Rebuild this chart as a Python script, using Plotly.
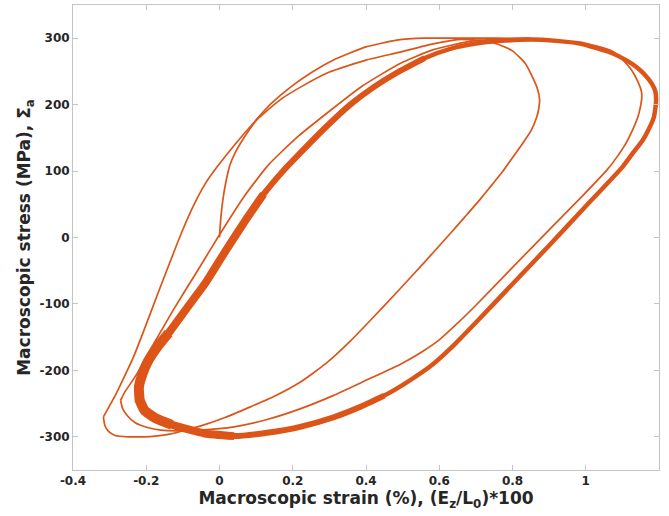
import plotly.graph_objects as go

# ---------------- data ----------------
# initial loading from the origin, first unloading to the left-most tip
initial_strain = [0.0, 0.003, 0.009, 0.018, 0.029, 0.045, 0.062, 0.08, 0.10, 0.13, 0.17, 0.22, 0.30, 0.40,
                  0.493, 0.58, 0.65, 0.711, 0.76, 0.80, 0.835, 0.855, 0.868, 0.874, 0.872, 0.866, 0.85, 0.828,
                  0.80, 0.774, 0.745, 0.711, 0.67, 0.63, 0.56, 0.49, 0.42, 0.357, 0.29, 0.22, 0.15, 0.084,
                  0.015, -0.053, -0.10, -0.135, -0.175, -0.208, -0.25, -0.285, -0.303, -0.313, -0.317]
initial_stress = [0, 25, 56, 85, 110, 130, 146, 161, 176, 191, 209, 226, 249, 267,
                  279, 291, 298, 297, 291, 281, 262, 241, 224, 208, 195, 181, 160, 142,
                  120, 100, 80, 57, 31, 6, -37, -79, -120, -156, -190, -218, -239, -255,
                  -271, -284, -291, -296, -299, -300, -300, -298, -292, -283, -270]

# first reload + unloading (outer thin loop)
cycle1_strain = [-0.317, -0.300, -0.283, -0.262, -0.235, -0.21, -0.168, -0.126, -0.1, -0.071, -0.04, -0.007,
                 0.045, 0.092, 0.14, 0.193, 0.25, 0.31, 0.40, 0.484, 0.56, 0.65, 0.75, 0.85, 0.93, 0.984,
                 1.03, 1.074, 1.10, 1.125, 1.142, 1.152, 1.153, 1.149, 1.142, 1.128, 1.11, 1.085, 1.057,
                 0.99, 0.91, 0.8, 0.70, 0.65, 0.60, 0.55, 0.493, 0.40, 0.31, 0.22, 0.13, 0.04, -0.053,
                 -0.115, -0.16, -0.197, -0.23, -0.252, -0.265, -0.27]
cycle1_stress = [-270, -253, -236, -212, -180, -145, -84, -24, 12, 48, 80, 106,
                 142, 172, 201, 226, 248, 267, 287, 297, 300, 300, 300, 299, 296, 293,
                 288, 280, 268, 252, 235, 220, 211, 196, 181, 162, 142, 121, 101,
                 62, 17, -45, -102, -129, -154, -173, -191, -215, -238, -258, -274, -285, -290,
                 -291, -290, -286, -279, -268, -257, -245]

# second reload
cycle2_strain = [-0.27, -0.258, -0.243, -0.225, -0.189, -0.126, -0.06, 0.002, 0.065, 0.133, 0.21,
                 0.293, 0.39, 0.493, 0.58, 0.68, 0.78, 0.85]
cycle2_stress = [-245, -232, -220, -205, -169, -109, -50, 6, 60, 109, 150,
                 187, 228, 262, 282, 295, 299, 300]

# stabilised loops (thick band)
stable_strain = [-0.218, -0.22, -0.21, -0.197, -0.17, -0.139, -0.09, -0.039, 0.018, 0.07, 0.12, 0.17, 0.22,
                 0.29, 0.357, 0.42, 0.484, 0.56, 0.63, 0.70, 0.77, 0.85, 0.92, 0.984, 1.03, 1.074, 1.11,
                 1.14, 1.163, 1.18, 1.19, 1.192, 1.186, 1.172, 1.155, 1.13, 1.10, 1.0, 0.9, 0.8, 0.7,
                 0.64, 0.58, 0.52, 0.45, 0.38, 0.31, 0.22, 0.13, 0.04, -0.04, -0.085, -0.13, -0.175, -0.205, -0.218]
stable_stress = [-245, -225, -205, -188, -165, -144, -107, -69, -19, 25, 65, 98, 127,
                 166, 200, 226, 248, 270, 284, 292, 296, 298, 296, 292, 285, 277, 267,
                 256, 244, 232, 220, 205, 181, 163, 146, 128, 106, 47, -12, -70, -128,
                 -162, -192, -215, -238, -256, -271, -285, -294, -299, -295, -289, -282, -272, -260, -245]

x_ticks = [-0.4, -0.2, 0, 0.2, 0.4, 0.6, 0.8, 1, 1.2]
x_labels = ["-0.4", "-0.2", "0", "0.2", "0.4", "0.6", "0.8", "1", "1.2"]
y_ticks = [-300, -200, -100, 0, 100, 200, 300]
y_labels = ["-300", "-200", "-100", "0", "100", "200", "300"]

# ---------------- figure ----------------
color = "#DD5418"
fig = go.Figure()


def add(x, y, w):
    fig.add_trace(go.Scatter(x=x, y=y, mode="lines",
                             line=dict(color=color, width=w, shape="spline", smoothing=0.5),
                             showlegend=False, hoverinfo="skip"))


# band where many stabilised cycles overlap: thickness grows towards the lower-left
add(stable_strain, stable_stress, 4.5)
add(stable_strain[-12:] + stable_strain[:18], stable_stress[-12:] + stable_stress[:18], 6)
add(stable_strain[-7:] + stable_strain[:11], stable_stress[-7:] + stable_stress[:11], 8)
add(stable_strain[-4:] + stable_strain[:6], stable_stress[-4:] + stable_stress[:6], 10)
add(initial_strain, initial_stress, 1.7)
add(cycle1_strain, cycle1_stress, 1.7)
add(cycle2_strain, cycle2_stress, 1.7)

axis_col = "#c4c4c4"
tick_font = dict(family="DejaVu Sans", size=12, color="#262626", weight="bold")
title_font = dict(family="DejaVu Sans", size=17, color="#262626", weight="bold")

fig.update_layout(
    width=669, height=516,
    margin=dict(l=73, r=10, t=5, b=46),
    paper_bgcolor="white", plot_bgcolor="white",
    xaxis=dict(range=[-0.4, 1.2], tickvals=x_ticks, ticktext=x_labels,
               ticks="inside", ticklen=5, tickcolor=axis_col, showline=True, linecolor=axis_col,
               linewidth=1, mirror="ticks", showgrid=False, zeroline=False, tickfont=tick_font,
               title=dict(text="Macroscopic strain (%), (E<sub>z</sub>/L<sub>0</sub>)*100",
                          font=title_font, standoff=3)),
    yaxis=dict(range=[-350, 350], tickvals=y_ticks, ticktext=y_labels,
               ticks="inside", ticklen=5, tickcolor=axis_col, showline=True, linecolor=axis_col,
               linewidth=1, mirror="ticks", showgrid=False, zeroline=False, tickfont=tick_font,
               title=dict(text="Macroscopic stress (MPa), Σ<sub>a</sub>",
                          font=title_font, standoff=4)),
)

fig.write_html("out.html")
